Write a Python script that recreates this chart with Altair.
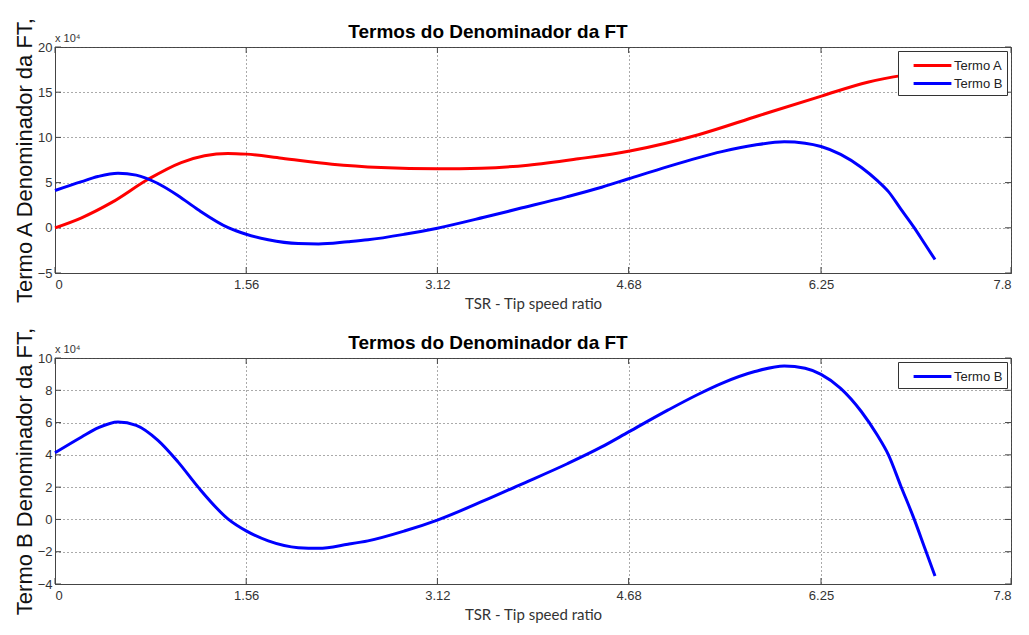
import altair as alt
import pandas as pd

# ---- data (values in units of 10^4) ----
tsr_a = [0.0, 0.217, 0.46, 0.76, 1.03, 1.22, 1.41, 1.56, 1.85, 2.26, 2.66, 3.12,
         3.48, 3.86, 4.27, 4.69, 5.25, 5.74, 6.26, 6.63, 6.92, 7.18]
termo_a = [0.0, 1.11, 2.78, 5.37, 7.22, 7.97, 8.23, 8.15, 7.7, 7.04, 6.67, 6.52,
           6.6, 6.93, 7.63, 8.5, 10.3, 12.4, 14.6, 16.1, 16.86, 17.3]

tsr_b = [0.0, 0.217, 0.35, 0.514, 0.663, 0.84, 1.005, 1.168, 1.413, 1.56, 1.74,
         1.985, 2.15, 2.39, 2.553, 2.85, 3.12, 3.5, 3.78, 4.18, 4.46, 4.68, 5.0,
         5.245, 5.44, 5.71, 5.95, 6.12, 6.25, 6.41, 6.58, 6.71, 6.8, 6.9, 7.01,
         7.1, 7.18]
termo_b = [4.13, 5.11, 5.67, 6.04, 5.83, 4.9, 3.55, 2.0, 0.02, -0.71, -1.33,
           -1.75, -1.79, -1.54, -1.33, -0.72, -0.04, 1.16, 2.1, 3.45, 4.49, 5.42,
           6.77, 7.74, 8.43, 9.16, 9.51, 9.36, 8.99, 8.12, 6.67, 5.21, 4.0, 2.09,
           0.02, -1.85, -3.51]

x_ticks = [0, 1.56, 3.12, 4.68, 6.25, 7.8]
y_ticks_top = [-5, 0, 5, 10, 15, 20]
y_ticks_bot = [-4, -2, 0, 2, 4, 6, 8, 10]

series_names = ["Termo A", "Termo B"]
series_colors = ["#ff0000", "#0000ff"]

title_text = "Termos do Denominador da FT"
x_title = "TSR - Tip speed ratio"
y_title_top = "Termo A Denominador da FT,"
y_title_bot = "Termo B Denominador da FT,"
exp_label = "x 10\u2074"

W, H = 956, 226
FRAME = "#444444"
GRID = "#555555"

df_a = pd.DataFrame({"tsr": tsr_a, "valor": termo_a, "serie": series_names[0]})
df_b = pd.DataFrame({"tsr": tsr_b, "valor": termo_b, "serie": series_names[1]})


def panel(df, names, colors, ydomain, yticks, ytitle):
    xs = alt.Scale(domain=[0, 7.8], nice=False, zero=False)
    ys = alt.Scale(domain=ydomain, nice=False, zero=False)
    xaxis = alt.Axis(values=x_ticks, format=".3~g", grid=True,
                     gridDash=[1, 3], gridColor=GRID, gridOpacity=1,
                     ticks=False, domainColor=FRAME, labelFont="Liberation Sans",
                     labelFontSize=13, labelColor="#333333", labelPadding=5,
                     titleFont="Lato", titleFontSize=15, titleFontWeight="normal",
                     titleColor="#333333", titlePadding=5)
    yaxis = alt.Axis(values=yticks, format="d", grid=True,
                     gridDash=[1, 3], gridColor=GRID, gridOpacity=1,
                     ticks=False, domainColor=FRAME, labelFont="Liberation Sans",
                     labelFontSize=13, labelColor="#333333", labelPadding=3,
                     titleFont="Liberation Sans", titleFontSize=22,
                     titleFontWeight="normal", titleColor="#111111",
                     titlePadding=1)

    def xe():
        return alt.X("tsr:Q", scale=xs, title=x_title, axis=xaxis)

    def ye():
        return alt.Y("valor:Q", scale=ys, title=ytitle, axis=yaxis)

    lines = alt.Chart(df).mark_line(strokeWidth=3, interpolate="monotone").encode(
        x=xe(), y=ye(),
        color=alt.Color("serie:N",
                        scale=alt.Scale(domain=names, range=colors),
                        legend=alt.Legend(title=None, orient="top-right", offset=4,
                                          fillColor="white", strokeColor="#333333",
                                          padding=4, symbolType="M-2.1,0H2.1",
                                          symbolStrokeWidth=3, symbolSize=324,
                                          symbolOffset=20, labelOffset=11,
                                          labelFont="Liberation Sans", labelFontSize=13,
                                          labelColor="#222222", rowPadding=0,
                                          cornerRadius=0)),
    )
    xt = pd.DataFrame({"tsr": x_ticks})
    yt = pd.DataFrame({"valor": yticks})
    tb = alt.Chart(xt).mark_rule(color=FRAME).encode(
        x=xe(), y=alt.value(H), y2=alt.value(H - 6))
    tt = alt.Chart(xt).mark_rule(color=FRAME).encode(
        x=xe(), y=alt.value(0), y2=alt.value(6))
    tl = alt.Chart(yt).mark_rule(color=FRAME).encode(
        y=ye(), x=alt.value(0), x2=alt.value(6))
    tr = alt.Chart(yt).mark_rule(color=FRAME).encode(
        y=ye(), x=alt.value(W), x2=alt.value(W - 6))
    ex = alt.Chart(pd.DataFrame({"s": [exp_label]})).mark_text(
        align="left", baseline="bottom", font="Liberation Sans", fontSize=11,
        color="#333333").encode(text="s:N", x=alt.value(0), y=alt.value(-3))
    return alt.layer(tl, tr, tb, tt, lines, ex).properties(
        width=W, height=H,
        title=alt.TitleParams(title_text, font="Liberation Sans", fontSize=19,
                              fontWeight="bold", color="#000000", dx=-45, offset=-26))


top = panel(pd.concat([df_a, df_b]), series_names, series_colors,
            [-5, 20], y_ticks_top, y_title_top)
bot = panel(df_b, series_names[1:], series_colors[1:], [-4, 10], y_ticks_bot, y_title_bot)

chart = alt.vconcat(top, bot, spacing=14).resolve_scale(color="independent").resolve_legend(
    color="independent").configure_view(stroke=FRAME, strokeWidth=1).properties(
    padding={"left": 4, "top": 7, "right": 5, "bottom": 0}, background="white")

chart.save("out.html", embed_options={"renderer": "svg", "actions": False})
